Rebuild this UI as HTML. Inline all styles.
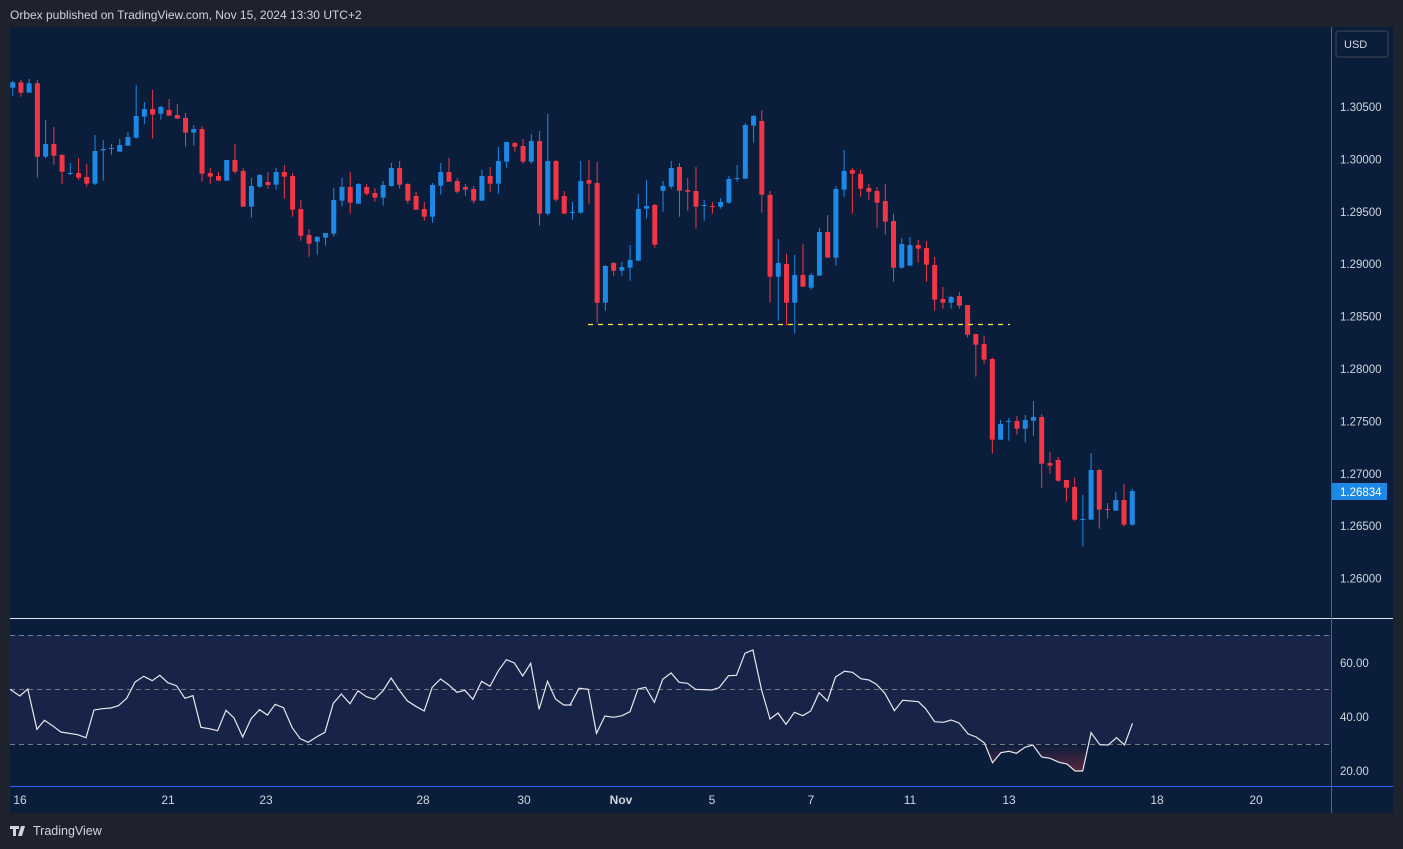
<!DOCTYPE html>
<html><head><meta charset="utf-8"><style>
html,body{margin:0;padding:0;background:#1e222d;width:1403px;height:849px;overflow:hidden;font-family:"Liberation Sans",sans-serif}
svg{position:absolute;left:0;top:0}
</style></head><body>
<svg id="s" width="1403" height="849" xmlns="http://www.w3.org/2000/svg">
<defs>
<linearGradient id="rg" x1="0" y1="744" x2="0" y2="772" gradientUnits="userSpaceOnUse"><stop offset="0" stop-color="#f23645" stop-opacity="0"/><stop offset="1" stop-color="#f23645" stop-opacity="0.35"/></linearGradient>
<clipPath id="below"><rect x="10" y="744" width="1321" height="42"/></clipPath>
</defs>
<rect x="0" y="0" width="1403" height="849" fill="#1e222d"/>
<text x="10" y="19" fill="#d1d4dc" font-size="12">Orbex published on TradingView.com, Nov 15, 2024 13:30 UTC+2</text>
<rect x="10" y="27" width="1383" height="786" fill="#0a1e3c"/>
<rect x="10" y="635" width="1321" height="109" fill="#172448"/>
<g stroke="#787b86" stroke-dasharray="5,4" stroke-width="1">
<line x1="10" y1="635.5" x2="1331" y2="635.5"/><line x1="10" y1="689.5" x2="1331" y2="689.5"/><line x1="10" y1="744.5" x2="1331" y2="744.5"/>
</g>
<g id="candles"></g>
<line x1="588" y1="324.5" x2="1010" y2="324.5" stroke="#ffeb3b" stroke-width="1.3" stroke-dasharray="5,5"/>
<g id="rsi"></g>
<line x1="10" y1="618.5" x2="1393" y2="618.5" stroke="#e0e3eb" stroke-width="1"/>
<line x1="10" y1="786.5" x2="1393" y2="786.5" stroke="#2962ff" stroke-width="1"/>
<line x1="1331.5" y1="27" x2="1331.5" y2="813" stroke="#2962ff" stroke-width="1"/>
<rect x="1336" y="31" width="52" height="26" rx="3" fill="#0a1e3c" stroke="#434651"/>
<text x="1344" y="48" fill="#d1d4dc" font-size="11">USD</text>
<g fill="#d1d4dc" font-size="11.5" id="py"></g>
<rect x="1332" y="483" width="55" height="17" fill="#1e88e5"/>
<text x="1340" y="496" fill="#fff" font-size="11.5">1.26834</text>
<g fill="#d1d4dc" font-size="11.5">
<text x="1340" y="667">60.00</text><text x="1340" y="721">40.00</text><text x="1340" y="775">20.00</text>
</g>
<g fill="#d1d4dc" font-size="12" text-anchor="middle">
<text x="20" y="804">16</text><text x="168" y="804">21</text><text x="266" y="804">23</text><text x="423" y="804">28</text><text x="524" y="804">30</text><text x="621" y="804" font-weight="bold">Nov</text><text x="712" y="804">5</text><text x="811" y="804">7</text><text x="910" y="804">11</text><text x="1009" y="804">13</text><text x="1157" y="804">18</text><text x="1256" y="804">20</text>
</g>
<path d="M10 826 h9 v3 h-3 v7 h-3 v-7 h-3z M21 826 h4 l-3 10 h-4z" fill="#d1d4dc"/>
<text x="33" y="835" fill="#d1d4dc" font-size="12.5">TradingView</text>
</svg>
<script>
var NS="http://www.w3.org/2000/svg";
function el(t,a,p){var e=document.createElementNS(NS,t);for(var k in a)e.setAttribute(k,a[k]);p.appendChild(e);return e;}
var B=[
[70,"b,37,53,33,77 r,37,68,30,80 b,40,68,27,68 r,40,260,30,323 b,222,260,150,265 r,222,257,171,284 r,255,305,252,341 b,309,311,279,315 r,309,323,264,330 r,321,341,282,350 b,243,341,195,345 b,237,241,210,332 b,234,236,222,254 b,225,245,207,245 b,201,227,186,227 b,138,203,45,206 b,117,140,96,161 r,117,134,60,206 b,111,131,108,149 r,120,137,87,137 r,135,146,102,146 r,144,188,129,230 b,177,188,165,227 r,177,311,168,335 r,309,320,294,341 r,318,332,306,332 b,270,332,270,332 r,270,305,222,311 r,303,410,294,410 b,348,410,324,443 b,315,350,312,353 r,336,345,306,356 b,306,344,294,359 r,306,320,285,386 r,318,419,309,440 r,417,497,390,512 r,495,521,477,560 b,501,515,498,554 b,489,503,489,527 b,390,491,354,500 b,351,392,324,410 r,351,398,306,431 b,342,401,339,401 r,351,371,342,377 r,369,383,354,395 b,345,383,333,407"],
[100,"b,204,258,189,260 r,204,254,183,266 r,252,302,249,311 r,288,329,276,329 r,327,350,306,362 b,255,350,249,368 b,216,257,189,284 r,216,245,174,245 r,243,275,234,281 r,261,269,252,287 r,267,302,258,311 b,228,302,210,302 r,228,251,201,275 b,183,251,141,281 b,126,185,126,203 r,129,140,126,155 r,138,185,117,191 b,123,185,102,191 r,123,341,93,377 b,183,341,42,347 r,183,299,180,305 r,288,341,273,341 b,336,338,306,359 b,243,338,183,341 r,240,251,180,311 r,249,608,186,668 b,498,608,495,632 r,489,512,486,527 b,501,512,486,527 b,480,503,435,542 b,327,482,282,482 b,318,326,240,356 r,315,434,312,443 b,258,272,243,335 b,204,260,183,266 r,201,272,189,350 r,270,275,234,332 r,273,320,201,386 b,315,317,300,362 r,318,320,306,341 b,306,320,294,326 b,237,308,228,311 b,234,236,195,245 b,75,236,69,236 b,48,77,45,128"],
[100,"r,63,284,30,338 r,285,530,273,608 b,489,530,417,662 r,492,608,462,677 b,525,608,465,701 r,525,560,432,560 b,525,563,519,569 b,396,527,384,527 r,396,473,345,473 b,267,473,258,497 b,213,269,150,290 r,210,221,204,341 r,222,266,210,290 r,264,275,252,299 r,273,308,261,383 r,303,365,252,404 r,363,503,342,545 b,432,503,414,506 b,435,497,411,497 r,435,446,420,488 r,444,494,423,545 r,495,599,471,632 r,597,608,561,626 b,591,608,587,626 r,588,617,576,626 r,615,704,615,713 r,702,734,702,830 r,732,779,708,791 r,777,1019,773,1061 b,972,1019,960,1019 b,963,965,954,1022 r,963,986,948,1004 b,960,986,945,1028 b,951,962,903,1007 r,951,1091,942,1163 r,1089,1097,1055,1121 r,1080,1142,1071,1145 r,1140,1163,1140,1205 r,1161,1259,1133,1262 b,1257,1259,1185,1340 b,1110,1259,1059,1259 r,1110,1229,1107,1286 r,1227,1229,1209,1256 b,1200,1232,1175,1232 r,1200,1274,1152,1280 b,1173,1274,1166,1277"]
];
var g=document.getElementById("candles"),i=0;
B.forEach(function(blk){var off=blk[0];blk[1].split(" ").forEach(function(s){var p=s.split(","),c=p[0]=="b"?"#1e88e5":"#f23645";
var x=12.7+i*8.232,bt=off+(+p[1])/3,bb=off+(+p[2])/3,wt=off+(+p[3])/3,wb=off+(+p[4])/3;
el("rect",{x:(x-0.5).toFixed(2),y:wt.toFixed(2),width:1,height:Math.max(1,wb-wt).toFixed(2),fill:c},g);
el("rect",{x:(x-2.5).toFixed(2),y:bt.toFixed(2),width:5,height:Math.max(1,bb-bt).toFixed(2),fill:c},g);i++;});});
var py=document.getElementById("py");
for(var k=0;k<10;k++){var v=1.305-k*0.005;el("text",{x:1340,y:(111+k*52.4).toFixed(1)},py).textContent=v.toFixed(5);}
var R1="0,148 27,168 49,147 74,268 95,241 117,257 140,276 186,284 209,293 231,210 254,206 277,204 298,197 321,175 344,126 368,109 391,122 412,106 434,128 458,137 481,175 503,167 525,262 548,266 571,272 594,211 616,234 640,291 663,236 686,209 708,225 729,193 752,203 776,263 798,296 820,307 843,291 866,277 889,190 911,162 935,191 957,152 980,170 1002,178 1026,152 1048,114 1070,150 1093,183 1116,199 1139,213 1161,142 1184,117 1206,134 1229,157 1251,151 1273,178 1297,124 1320,139 1343,92 1365,59 1387,69 1410,108 1432,70 1455,208 1478,124 1500,177 1523,195 1545,195";
var R2="0,195 25,145 50,148 73,280 96,228 120,232 143,227 165,215 187,147 208,142 232,187 255,118 278,99 300,127 323,130 345,148 390,150 410,143 436,107 458,106 481,40 503,30 527,150 550,237 572,219 594,253 617,217 640,227 662,213 685,158 708,183 730,111 755,94 777,97 800,116 822,120 843,133 866,160 892,212 915,181 958,185 978,206 1003,245 1027,247 1048,240 1070,249 1095,282 1117,291 1140,309 1162,368 1185,338 1207,334 1228,340 1251,322 1273,315 1297,351 1320,355 1345,367 1367,372 1389,393 1410,393 1433,278 1457,314 1480,315 1503,293 1525,315 1547,250";
var pts=[];
[[10,R1],[570,R2]].forEach(function(a){a[1].split(" ").forEach(function(q){var p=q.split(",");pts.push((a[0]+(+p[0])/2.75).toFixed(1)+","+(640+(+p[1])/3).toFixed(1));});});
var r=document.getElementById("rsi");
var poly=pts.join(" ");
var fx1=pts[0].split(",")[0],fx2=pts[pts.length-1].split(",")[0];
el("polygon",{points:fx1+",744 "+poly+" "+fx2+",744",fill:"url(#rg)","clip-path":"url(#below)"},r);
el("polyline",{points:poly,fill:"none",stroke:"#e8e8ec","stroke-width":1.2},r);
</script>
</body></html>
